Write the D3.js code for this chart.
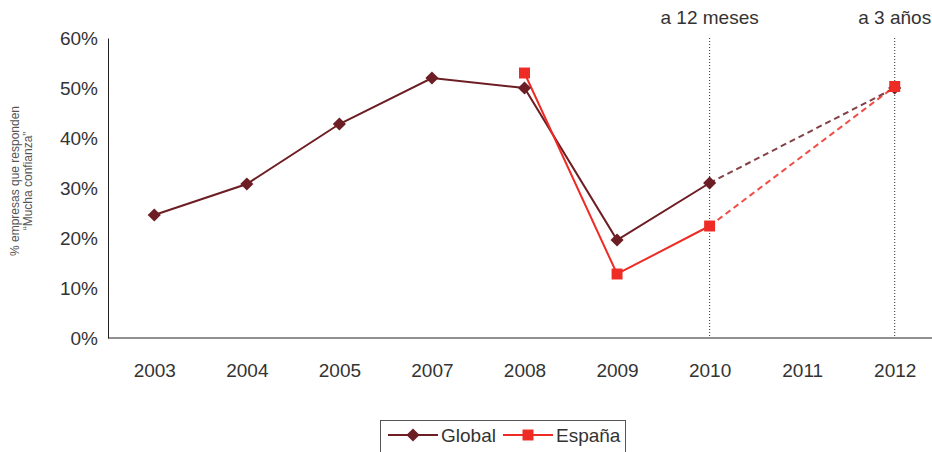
<!DOCTYPE html>
<html>
<head>
<meta charset="utf-8">
<script src="https://cdn.jsdelivr.net/npm/d3@7"></script>
<style>
  body { margin: 0; background: #fff; }
  svg { font-family: "Liberation Sans", Arial, sans-serif; }
</style>
</head>
<body>
<svg width="932" height="452"></svg>
<script>
// categories along the x axis
var years = ["2003", "2004", "2005", "2007", "2008", "2009", "2010", "2011", "2012"];

// % companies answering "Mucha confianza"
var globalYears = ["2003", "2004", "2005", "2007", "2008", "2009", "2010"];
var globalVals  = [24.6, 30.8, 42.8, 52, 50, 19.6, 31];
var espanaYears = ["2008", "2009", "2010"];
var espanaVals  = [53, 12.8, 22.4];

// forecasts (dashed part)
var forecastYears  = ["2010", "2012"];
var globalForecast = [31, 50];
var espanaForecast = [22.4, 50.3];

var yTicks = [0, 10, 20, 30, 40, 50, 60];
var markerYears = ["2010", "2012"];
var markerLabels = ["a 12 meses", "a 3 años"];

var globalColour = "#6d1e24";
var espanaColour = "#ee2b24";
var textColour = "#333";

var svg = d3.select("svg");

var x = d3.scalePoint().domain(years).range([108, 941]).padding(0.5);
var y = d3.scaleLinear().domain([0, 60]).range([338, 38]);

// y axis
var yAxis = d3.axisLeft(y).tickValues(yTicks).tickSize(0).tickPadding(10)
  .tickFormat(function(d) { return d + "%"; });
var gy = svg.append("g").attr("transform", "translate(108,0)").call(yAxis);
gy.select(".domain").attr("stroke", "#222");
gy.selectAll("text").attr("fill", textColour).style("font-size", "19px");

// x axis
var xAxis = d3.axisBottom(x).tickSize(0).tickPadding(26);
var gx = svg.append("g").attr("transform", "translate(0,338)").call(xAxis);
gx.select(".domain").attr("d", "M108,0H932").attr("stroke", "#222");
gx.selectAll("text").attr("fill", textColour).style("font-size", "19px");

// y title
svg.append("text")
  .attr("transform", "translate(19,181) rotate(-90)")
  .attr("text-anchor", "middle")
  .attr("fill", "#555")
  .style("font-size", "12px")
  .selectAll("tspan")
  .data(["% empresas que responden", "\u201cMucha confianza\u201d"])
  .enter().append("tspan")
  .attr("x", 0)
  .attr("dy", function(d, i) { return i === 0 ? 0 : "1.05em"; })
  .text(function(d) { return d; });

// vertical dotted markers
markerYears.forEach(function(yr, i) {
  svg.append("line")
    .attr("x1", x(yr)).attr("x2", x(yr))
    .attr("y1", y(60)).attr("y2", y(0))
    .attr("stroke", "#333").attr("stroke-width", 1)
    .attr("stroke-dasharray", "1,2");
  svg.append("text")
    .attr("x", x(yr)).attr("y", 24)
    .attr("text-anchor", "middle")
    .attr("fill", textColour)
    .style("font-size", "19px")
    .text(markerLabels[i]);
});

var line = d3.line().x(function(d) { return x(d[0]); }).y(function(d) { return y(d[1]); });
function pairs(ks, vs) { return ks.map(function(k, i) { return [k, vs[i]]; }); }

// dashed forecasts
svg.append("path").datum(pairs(forecastYears, globalForecast)).attr("d", line)
  .attr("fill", "none").attr("stroke", globalColour).attr("stroke-width", 2).attr("stroke-dasharray", "6,4").attr("opacity", 0.85);
svg.append("path").datum(pairs(forecastYears, espanaForecast)).attr("d", line)
  .attr("fill", "none").attr("stroke", espanaColour).attr("stroke-width", 2).attr("stroke-dasharray", "6,4").attr("opacity", 0.85);

// solid lines
svg.append("path").datum(pairs(globalYears, globalVals)).attr("d", line)
  .attr("fill", "none").attr("stroke", globalColour).attr("stroke-width", 2);
svg.append("path").datum(pairs(espanaYears, espanaVals)).attr("d", line)
  .attr("fill", "none").attr("stroke", espanaColour).attr("stroke-width", 2);

var diamond = d3.symbol().type(d3.symbolDiamond2).size(110);
var square = d3.symbol().type(d3.symbolSquare).size(120);

// markers
svg.selectAll(".gm").data(pairs(globalYears, globalVals).concat([[forecastYears[1], globalForecast[1]]]))
  .enter().append("path")
  .attr("d", diamond)
  .attr("transform", function(d) { return "translate(" + x(d[0]) + "," + y(d[1]) + ")"; })
  .attr("fill", globalColour);
svg.selectAll(".em").data(pairs(espanaYears, espanaVals).concat([[forecastYears[1], espanaForecast[1]]]))
  .enter().append("path")
  .attr("d", square)
  .attr("transform", function(d) { return "translate(" + x(d[0]) + "," + y(d[1]) + ")"; })
  .attr("fill", espanaColour);

// legend
var lg = svg.append("g");
lg.append("rect").attr("x", 380.5).attr("y", 420.5).attr("width", 245).attr("height", 40)
  .attr("fill", "none").attr("stroke", "#555");
lg.append("line").attr("x1", 388).attr("x2", 438).attr("y1", 435).attr("y2", 435)
  .attr("stroke", globalColour).attr("stroke-width", 2);
lg.append("path").attr("d", diamond).attr("transform", "translate(413,435)").attr("fill", globalColour);
lg.append("text").attr("x", 441).attr("y", 442).attr("fill", textColour).style("font-size", "19px").text("Global");
lg.append("line").attr("x1", 503).attr("x2", 553).attr("y1", 435).attr("y2", 435)
  .attr("stroke", espanaColour).attr("stroke-width", 2);
lg.append("path").attr("d", square).attr("transform", "translate(528,435)").attr("fill", espanaColour);
lg.append("text").attr("x", 556).attr("y", 442).attr("fill", textColour).style("font-size", "19px").text("España");
</script>
</body>
</html>
